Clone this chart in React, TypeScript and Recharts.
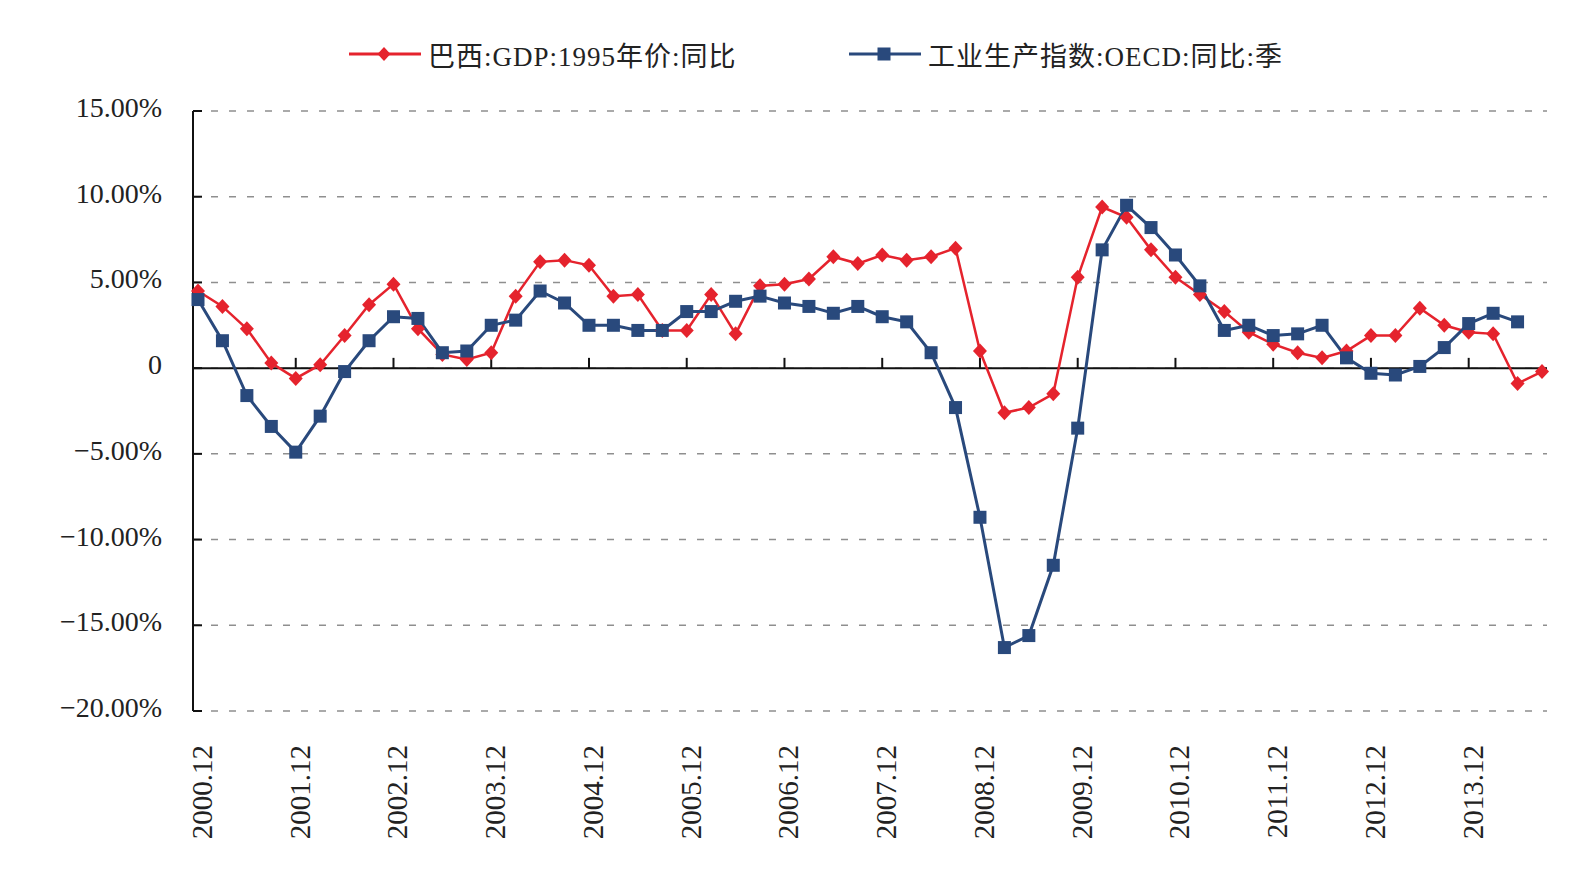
import React from 'react';
import { LineChart, Line, XAxis, YAxis, CartesianGrid, ReferenceLine } from 'recharts';

// Quarter-end labels, 2000.12 – 2014.09
const quarters: string[] = [
  '2000.12',
  '2001.03', '2001.06', '2001.09', '2001.12',
  '2002.03', '2002.06', '2002.09', '2002.12',
  '2003.03', '2003.06', '2003.09', '2003.12',
  '2004.03', '2004.06', '2004.09', '2004.12',
  '2005.03', '2005.06', '2005.09', '2005.12',
  '2006.03', '2006.06', '2006.09', '2006.12',
  '2007.03', '2007.06', '2007.09', '2007.12',
  '2008.03', '2008.06', '2008.09', '2008.12',
  '2009.03', '2009.06', '2009.09', '2009.12',
  '2010.03', '2010.06', '2010.09', '2010.12',
  '2011.03', '2011.06', '2011.09', '2011.12',
  '2012.03', '2012.06', '2012.09', '2012.12',
  '2013.03', '2013.06', '2013.09', '2013.12',
  '2014.03', '2014.06', '2014.09',
];

// 巴西:GDP:1995年价:同比 (%)
const gdpYoY: number[] = [
  4.5,
  3.6, 2.3, 0.3, -0.6,
  0.2, 1.9, 3.7, 4.9,
  2.3, 0.8, 0.5, 0.9,
  4.2, 6.2, 6.3, 6.0,
  4.2, 4.3, 2.2, 2.2,
  4.3, 2.0, 4.8, 4.9,
  5.2, 6.5, 6.1, 6.6,
  6.3, 6.5, 7.0, 1.0,
  -2.6, -2.3, -1.5, 5.3,
  9.4, 8.8, 6.9, 5.3,
  4.3, 3.3, 2.1, 1.4,
  0.9, 0.6, 1.0, 1.9,
  1.9, 3.5, 2.5, 2.1,
  2.0, -0.9, -0.2,
];

// 工业生产指数:OECD:同比:季 (%)
const industryYoY: (number | null)[] = [
  4.0,
  1.6, -1.6, -3.4, -4.9,
  -2.8, -0.2, 1.6, 3.0,
  2.9, 0.9, 1.0, 2.5,
  2.8, 4.5, 3.8, 2.5,
  2.5, 2.2, 2.2, 3.3,
  3.3, 3.9, 4.2, 3.8,
  3.6, 3.2, 3.6, 3.0,
  2.7, 0.9, -2.3, -8.7,
  -16.3, -15.6, -11.5, -3.5,
  6.9, 9.5, 8.2, 6.6,
  4.8, 2.2, 2.5, 1.9,
  2.0, 2.5, 0.6, -0.3,
  -0.4, 0.1, 1.2, 2.6,
  3.2, 2.7, null,
];

const yTicks: number[] = [15, 10, 5, 0, -5, -10, -15, -20];

const seriesNames = ['巴西:GDP:1995年价:同比', '工业生产指数:OECD:同比:季'];

const RED = '#e5232d';
const BLUE = '#29497c';
const TEXT = '#222222';
const SERIF = "'Liberation Serif', 'Times New Roman', 'Noto Sans CJK SC', serif";

const data = quarters.map((q, i) => ({
  q,
  gdp: gdpYoY[i],
  ind: industryYoY[i],
}));

// Year-end categories get a small upward tick on the zero line
const yearEnds = quarters.filter((_, i) => i > 0 && i % 4 === 0);
const ZERO_TICK = 0.6;

const fmtPct = (v: number) => {
  if (v === 0) return '0';
  const s = Math.abs(v).toFixed(2) + '%';
  return v < 0 ? '\u2212' + s : s;
};

const Diamond = (p: any) => {
  const { cx, cy, index } = p;
  if (cx == null || cy == null || p.value == null) return <g key={`d${index}`} />;
  return (
    <path
      key={`d${index}`}
      d={`M${cx} ${cy - 7.5} L${cx + 7} ${cy} L${cx} ${cy + 7.5} L${cx - 7} ${cy} Z`}
      fill={RED}
    />
  );
};

const Square = (p: any) => {
  const { cx, cy, index } = p;
  if (cx == null || cy == null || p.value == null) return <g key={`s${index}`} />;
  return <rect key={`s${index}`} x={cx - 6.5} y={cy - 6.5} width={13} height={13} fill={BLUE} />;
};

const XTick = (p: any) => {
  const { x, y, payload } = p;
  const ax = x + 4;
  const ay = y + 34;
  return (
    <text
      x={ax}
      y={ay}
      transform={`rotate(-90, ${ax}, ${ay})`}
      textAnchor="end"
      dominantBaseline="central"
      fontFamily={SERIF}
      fontSize={29}
      fill={TEXT}
    >
      {payload.value}
    </text>
  );
};

const YTick = (p: any) => {
  const { x, y, payload } = p;
  return (
    <text x={x} y={y} dy={6} textAnchor="end" fontFamily={SERIF} fontSize={28} fill={TEXT}>
      {fmtPct(payload.value)}
    </text>
  );
};

const LegendIcon = ({ color, kind }: { color: string; kind: 'diamond' | 'square' }) => (
  <svg width={72} height={20} style={{ display: 'block' }}>
    <line x1={0} y1={10} x2={72} y2={10} stroke={color} strokeWidth={3} />
    {kind === 'diamond' ? (
      <path d="M35 3 L41.5 10 L35 17 L28.5 10 Z" fill={color} />
    ) : (
      <rect x={28.5} y={3.5} width={13} height={13} fill={color} />
    )}
  </svg>
);

const legendItems = [
  { name: seriesNames[0], color: RED, kind: 'diamond' as const, left: 349 },
  { name: seriesNames[1], color: BLUE, kind: 'square' as const, left: 849 },
];

export default function App() {
  return (
    <div
      style={{
        position: 'absolute',
        left: 0,
        top: 0,
        width: 1586,
        height: 871,
        background: '#ffffff',
        overflow: 'hidden',
      }}
    >
      {legendItems.map((it) => (
        <div
          key={it.name}
          style={{
            position: 'absolute',
            left: it.left,
            top: 36,
            height: 36,
            display: 'flex',
            alignItems: 'center',
            gap: 7,
            fontFamily: SERIF,
            fontSize: 27,
            letterSpacing: 1,
            color: TEXT,
            whiteSpace: 'nowrap',
          }}
        >
          <LegendIcon color={it.color} kind={it.kind} />
          <span>{it.name}</span>
        </div>
      ))}
      <LineChart
        width={1586}
        height={871}
        data={data}
        margin={{ top: 111, right: 39, bottom: 0, left: 0 }}
      >
        <CartesianGrid
          vertical={false}
          stroke="#8f8f8f"
          strokeWidth={1.5}
          strokeDasharray="7 11"
        />
        <XAxis
          dataKey="q"
          interval={3}
          height={160}
          padding={{ left: 5, right: 5 }}
          axisLine={false}
          tickLine={false}
          tickSize={0}
          tickMargin={0}
          tick={<XTick />}
        />
        <YAxis
          domain={[-20, 15]}
          ticks={yTicks}
          width={193}
          interval={0}
          axisLine={{ stroke: '#111111', strokeWidth: 2 }}
          tickLine={{ stroke: '#111111', strokeWidth: 2 }}
          tickSize={-9}
          tickMargin={40}
          tick={<YTick />}
        />
        <ReferenceLine y={0} stroke="#111111" strokeWidth={2} />
        {yearEnds.map((q) => (
          <ReferenceLine
            key={q}
            segment={[
              { x: q, y: 0 },
              { x: q, y: ZERO_TICK },
            ]}
            stroke="#111111"
            strokeWidth={2}
          />
        ))}
        <Line
          type="linear"
          dataKey="gdp"
          name={seriesNames[0]}
          stroke={RED}
          strokeWidth={2.5}
          dot={Diamond}
          activeDot={false}
          isAnimationActive={false}
        />
        <Line
          type="linear"
          dataKey="ind"
          name={seriesNames[1]}
          stroke={BLUE}
          strokeWidth={3}
          dot={Square}
          activeDot={false}
          isAnimationActive={false}
        />
      </LineChart>
    </div>
  );
}
